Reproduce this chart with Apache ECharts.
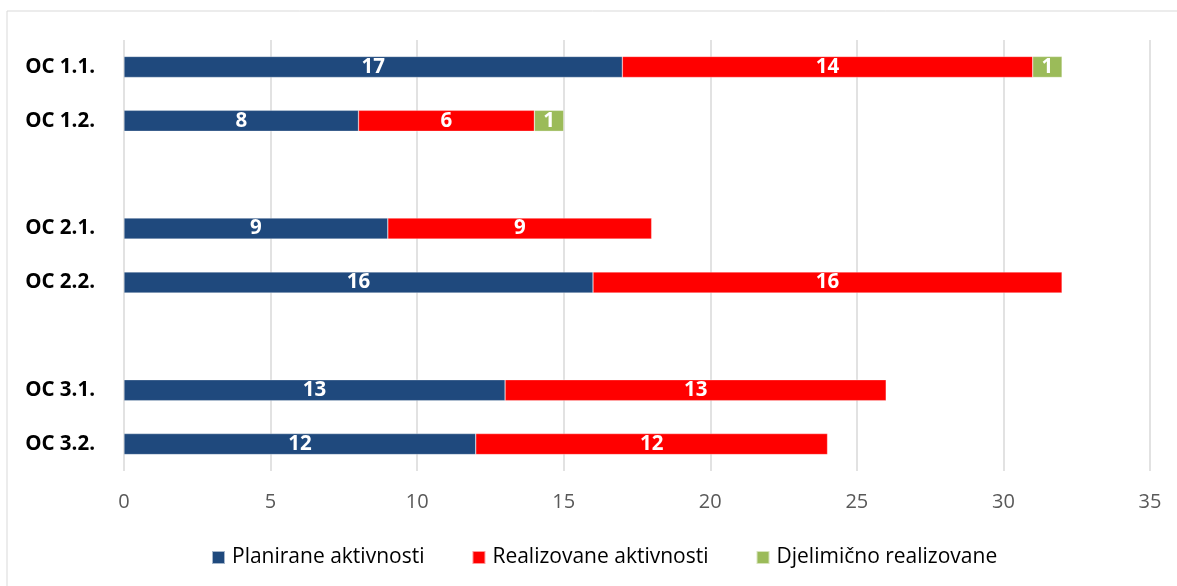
<!DOCTYPE html>
<html><head><meta charset="utf-8">
<script src="https://cdn.jsdelivr.net/npm/echarts@6/dist/echarts.min.js"></script>
<style>html,body{margin:0;padding:0;background:#fff}#c{width:1177px;height:586px}</style>
</head><body><div id="c"></div>
<script>
var categories = ['OC 1.1.', 'OC 1.2.', ' ', 'OC 2.1.', 'OC 2.2.', '  ', 'OC 3.1.', 'OC 3.2.'];
var planirane = [17, 8, null, 9, 16, null, 13, 12];
var realizovane = [14, 6, null, 9, 16, null, 13, 12];
var djelimicno = [1, 1, null, null, null, null, null, null];
var seriesNames = ['Planirane aktivnosti', 'Realizovane aktivnosti', 'Djelimično realizovane'];
var xTicks = [0, 5, 10, 15, 20, 25, 30, 35];

var FONT = '"Open Sans", sans-serif';
var chart = echarts.init(document.getElementById('c'), null, {renderer: 'canvas'});
function mk(name, data, color) {
  return {
    name: name, type: 'bar', stack: 'a', data: data, barWidth: 21,
    itemStyle: {color: color, borderColor: 'rgba(255,255,255,0.6)', borderWidth: 0.5},
    label: {show: true, position: 'inside', color: '#fff', fontWeight: 'bold', fontSize: 20.5, fontFamily: FONT,
      formatter: function (p) { return p.value == null ? '' : p.value; }},
    emphasis: {disabled: true}
  };
}
chart.setOption({
  animation: false,
  textStyle: {fontFamily: FONT},
  graphic: [{type: 'rect', shape: {x: 7, y: 11, width: 1200, height: 620}, style: {fill: 'none', stroke: '#D9D9D9', lineWidth: 1}, silent: true, z: -1}],
  grid: {left: 124, right: 27, top: 40, bottom: 115, containLabel: false},
  legend: {
    bottom: 13, left: 206, itemWidth: 13, itemHeight: 13, itemGap: 47, icon: 'rect',
    textStyle: {fontSize: 21, color: '#000', fontFamily: FONT, padding: [0, 0, 0, 2]},
    data: seriesNames
  },
  xAxis: {
    type: 'value', min: xTicks[0], max: xTicks[xTicks.length - 1], interval: 5,
    axisLine: {show: false}, axisTick: {show: false},
    axisLabel: {color: '#595959', fontSize: 20, margin: 21, fontFamily: FONT},
    splitLine: {lineStyle: {color: '#D9D9D9', width: 1.5}}
  },
  yAxis: {
    type: 'category', inverse: true, data: categories,
    axisLine: {show: false}, axisTick: {show: false},
    axisLabel: {color: '#000', fontSize: 20.5, fontWeight: 'bold', margin: 29, fontFamily: FONT}
  },
  series: [mk(seriesNames[0], planirane, '#1F497D'), mk(seriesNames[1], realizovane, '#FF0000'), mk(seriesNames[2], djelimicno, '#9BBB59')]
});
</script></body></html>
